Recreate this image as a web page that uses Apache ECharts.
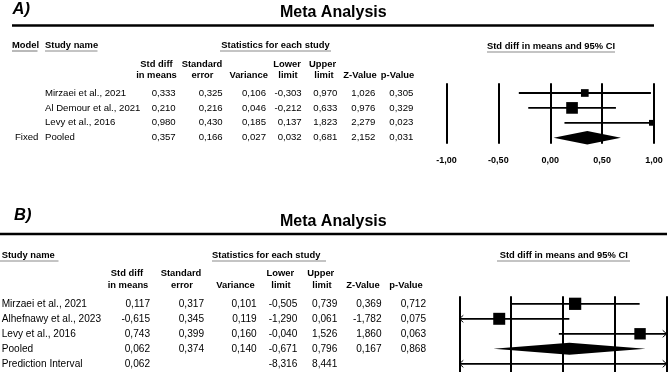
<!DOCTYPE html>
<html><head><meta charset="utf-8">
<script src="https://cdn.jsdelivr.net/npm/echarts@6/dist/echarts.min.js"></script>
<style>html,body{margin:0;padding:0;background:#fff}#c{width:669px;height:372px}</style>
</head><body><div id="c"></div>
<script>
// ---------- Panel A data ----------
const studiesA = ['Mirzaei et al., 2021', 'Al Demour et al., 2021', 'Levy et al., 2016', 'Pooled'];
const modelA = ['', '', '', 'Fixed'];
const kindA = ['study', 'study', 'study', 'pooled'];
const estA = [0.333, 0.210, 0.980, 0.357];
const seA = [0.325, 0.216, 0.430, 0.166];
const varA = [0.106, 0.046, 0.185, 0.027];
const lowA = [-0.303, -0.212, 0.137, 0.032];
const upA = [0.970, 0.633, 1.823, 0.681];
const zA = [1.026, 0.976, 2.279, 2.152];
const pA = [0.305, 0.329, 0.023, 0.031];

// ---------- Panel B data ----------
const studiesB = ['Mirzaei et al., 2021', 'Alhefnawy et al., 2023', 'Levy et al., 2016', 'Pooled', 'Prediction Interval'];
const kindB = ['study', 'study', 'study', 'pooled', 'pi'];
const estB = [0.117, -0.615, 0.743, 0.062, 0.062];
const seB = [0.317, 0.345, 0.399, 0.374, null];
const varB = [0.101, 0.119, 0.160, 0.140, null];
const lowB = [-0.505, -1.290, -0.040, -0.671, -8.316];
const upB = [0.739, 0.061, 1.526, 0.796, 8.441];
const zB = [0.369, -1.782, 1.860, 0.167, null];
const pB = [0.712, 0.075, 0.063, 0.868, null];

// ---------- axis ----------
const xMin = -1, xMax = 1, xStep = 0.5;

// ---------- helpers ----------
const FONT = '"Liberation Sans", Arial, sans-serif';
const fmt3 = v => (v === null || v === undefined) ? '' : v.toFixed(3).replace('.', ',');
const fmt2 = v => v.toFixed(2).replace('.', ',');

// square sizes proportional to sqrt(weight)
function tau2From(vars, pooledVar) {
  let lo = 0, hi = 10;
  for (let i = 0; i < 80; i++) {
    const m = (lo + hi) / 2;
    const s = vars.reduce((a, v) => a + 1 / (v + m), 0);
    if (s > 1 / pooledVar) lo = m; else hi = m;
  }
  return (lo + hi) / 2;
}
const studyVarsB = varB.filter((v, i) => kindB[i] === 'study');
const tauB = tau2From(studyVarsB, varB[kindB.indexOf('pooled')]);

function buildSeries(idx, kinds, est, low, up, vars, sizeK, tau2, arrows) {
  const ci = [], sq = [], dia = [];
  kinds.forEach((k, i) => {
    const r = i + 1;
    if (k === 'study') {
      ci.push([low[i], up[i], r]);
      sq.push([est[i], r, sizeK * Math.sqrt(1 / (vars[i] + tau2))]);
    } else if (k === 'pi') {
      ci.push([low[i], up[i], r]);
    } else {
      dia.push([low[i], est[i], up[i], r]);
    }
  });
  return [
    {
      type: 'custom', xAxisIndex: idx, yAxisIndex: idx, z: 3,
      encode: { x: [0, 1], y: 2 }, data: ci, silent: true,
      renderItem: function (params, api) {
        const lo = api.value(0), hi = api.value(1), r = api.value(2);
        const cl = Math.max(lo, xMin), ch = Math.min(hi, xMax);
        const p1 = api.coord([cl, r]), p2 = api.coord([ch, r]);
        const ch_ = [{ type: 'line', shape: { x1: p1[0], y1: p1[1], x2: p2[0], y2: p2[1] }, style: { stroke: '#000', lineWidth: 1.8 } }];
        if (arrows && lo < xMin) ch_.push({ type: 'polyline', shape: { points: [[p1[0] + 4, p1[1] - 3.5], [p1[0], p1[1]], [p1[0] + 4, p1[1] + 3.5]] }, style: { stroke: '#000', fill: null, lineWidth: 1 } });
        if (arrows && hi > xMax) ch_.push({ type: 'polyline', shape: { points: [[p2[0] - 4, p2[1] - 3.5], [p2[0], p2[1]], [p2[0] - 4, p2[1] + 3.5]] }, style: { stroke: '#000', fill: null, lineWidth: 1 } });
        return { type: 'group', children: ch_ };
      }
    },
    {
      type: 'scatter', xAxisIndex: idx, yAxisIndex: idx, z: 4, silent: true,
      symbol: 'rect', data: sq, symbolSize: v => v[2],
      itemStyle: { color: '#000', opacity: 1 }
    },
    {
      type: 'custom', xAxisIndex: idx, yAxisIndex: idx, z: 5, silent: true,
      encode: { x: [0, 1, 2], y: 3 }, data: dia,
      renderItem: function (params, api) {
        const l = api.coord([api.value(0), api.value(3)]);
        const m = api.coord([api.value(1), api.value(3)]);
        const h = api.coord([api.value(2), api.value(3)]);
        const hh = idx === 0 ? 6.7 : 6;
        return { type: 'polygon', shape: { points: [[l[0], l[1]], [m[0], m[1] - hh], [h[0], h[1]], [m[0], m[1] + hh]] }, style: { fill: '#000' } };
      }
    }
  ];
}

const xAxisBase = {
  type: 'value', min: xMin, max: xMax, interval: xStep,
  axisLine: { show: false }, axisTick: { show: false },
  splitLine: { show: true, showMinLine: true, showMaxLine: true, lineStyle: { color: '#000', width: 2 } },
  axisLabel: { color: '#000', fontWeight: 'bold', fontSize: 9, fontFamily: FONT, margin: 12, formatter: v => fmt2(v) }
};

const chart = echarts.init(document.getElementById('c'), null, { renderer: 'canvas' });
chart.setOption({
  animation: false,
  backgroundColor: '#fff',
  grid: [
    { left: 446.5, top: 83.3, width: 207.5, height: 60.4, containLabel: false, outerBoundsMode: 'none' },
    { left: 459.3, top: 296.3, width: 207.4, height: 82.5, containLabel: false, outerBoundsMode: 'none' }
  ],
  xAxis: [Object.assign({ gridIndex: 0 }, xAxisBase), Object.assign({ gridIndex: 1 }, xAxisBase)],
  yAxis: [
    { gridIndex: 0, type: 'value', inverse: true, min: 0.35, max: 4.4, show: false },
    { gridIndex: 1, type: 'value', inverse: true, min: 0.5, max: 6, show: false }
  ],
  series: [].concat(
    buildSeries(0, kindA, estA, lowA, upA, varA, 2.5, 0, false),
    buildSeries(1, kindB, estB, lowB, upB, varB, 7.7, tauB, true)
  )
});

// ---------- table text ----------
const g = [];
function txt(text, x, y, opt) {
  opt = opt || {};
  const size = opt.size || 10, weight = opt.weight || 'normal', style = opt.style || 'normal';
  const fam = opt.family || FONT;
  const align = opt.align || 'left';
  g.push({
    type: 'text', x: x, y: y, silent: true,
    style: {
      text: text, fill: '#000',
      font: style + ' ' + weight + ' ' + size + 'px ' + fam,
      align: align, textAlign: align, verticalAlign: 'middle', textVerticalAlign: 'middle'
    }
  });
}
function hline(x1, x2, y, w, c) {
  g.push({ type: 'line', silent: true, shape: { x1: x1, y1: y, x2: x2, y2: y }, style: { stroke: c || '#000', lineWidth: w } });
}
const HB = { size: 9.4, weight: 'bold' };
const HBc = { size: 9.4, weight: 'bold', align: 'center' };
const UL = '#8a8a8a';
const PANEL = { size: 16.5, weight: 'bold', style: 'italic' };

// Panel A headers
txt('A)', 12.5, 9.5, PANEL);
txt('Meta Analysis', 333.3, 12.7, { size: 16, weight: 'bold', align: 'center' });
hline(12, 654, 25.5, 2.5);
txt('Model', 12, 45.7, HB); hline(12, 37.5, 51, 1.2, UL);
txt('Study name', 45, 45.7, HB); hline(45, 97.5, 51, 1.2, UL);
txt('Statistics for each study', 275.5, 45.7, HBc); hline(220, 331, 51, 1.2, UL);
txt('Std diff in means and 95% CI', 551, 46.7, HBc); hline(487, 615, 52, 1.2, UL);
txt('Std diff', 156.5, 64.3, HBc); txt('in means', 156.5, 75.5, HBc);
txt('Standard', 202, 64.3, HBc); txt('error', 202.5, 75.5, HBc);
txt('Variance', 248.7, 75.5, HBc);
txt('Lower', 287, 64.3, HBc); txt('limit', 288, 75.5, HBc);
txt('Upper', 322.5, 64.3, HBc); txt('limit', 324, 75.5, HBc);
txt('Z-Value', 360, 75.5, HBc);
txt('p-Value', 397.5, 75.5, HBc);

const colsA = [175.7, 222.7, 266, 301.7, 337.3, 375.3, 413.3];
studiesA.forEach((s, i) => {
  const y = chart.convertToPixel({ gridIndex: 0 }, [0, i + 1])[1];
  const o = { size: 9.6 };
  const oR = { size: 9.6, align: 'right' };
  if (modelA[i]) txt(modelA[i], 15, y, o);
  txt(s, 45, y, o);
  [estA[i], seA[i], varA[i], lowA[i], upA[i], zA[i], pA[i]].forEach((v, j) => txt(fmt3(v), colsA[j], y, oR));
});

// Panel B headers
txt('B)', 14, 215, PANEL);
txt('Meta Analysis', 333.3, 221.7, { size: 16, weight: 'bold', align: 'center' });
hline(0, 667, 234, 2.6);
txt('Study name', 1.7, 255, HB); hline(0, 58.5, 261, 1.2, UL);
txt('Statistics for each study', 212, 255, HB); hline(212, 326, 261, 1.2, UL);
txt('Std diff in means and 95% CI', 563.7, 255, HBc); hline(497, 630, 261, 1.2, UL);
txt('Std diff', 127, 273.3, HBc); txt('in means', 128, 285.7, HBc);
txt('Standard', 181, 273.3, HBc); txt('error', 182, 285.7, HBc);
txt('Variance', 235.5, 285.7, HBc);
txt('Lower', 280.3, 273.3, HBc); txt('limit', 281, 285.7, HBc);
txt('Upper', 320.7, 273.3, HBc); txt('limit', 322, 285.7, HBc);
txt('Z-Value', 363, 285.7, HBc);
txt('p-Value', 406, 285.7, HBc);

const colsB = [150, 204, 256.7, 297.3, 337.3, 381.5, 426];
studiesB.forEach((s, i) => {
  const y = chart.convertToPixel({ gridIndex: 1 }, [0, i + 1])[1];
  const o = { size: 10.1 };
  const oR = { size: 10.1, align: 'right' };
  txt(s, 1.7, y, o);
  [estB[i], seB[i], varB[i], lowB[i], upB[i], zB[i], pB[i]].forEach((v, j) => { if (v !== null) txt(fmt3(v), colsB[j], y, oR); });
});

chart.setOption({ graphic: { elements: g } });
</script>
</body></html>
